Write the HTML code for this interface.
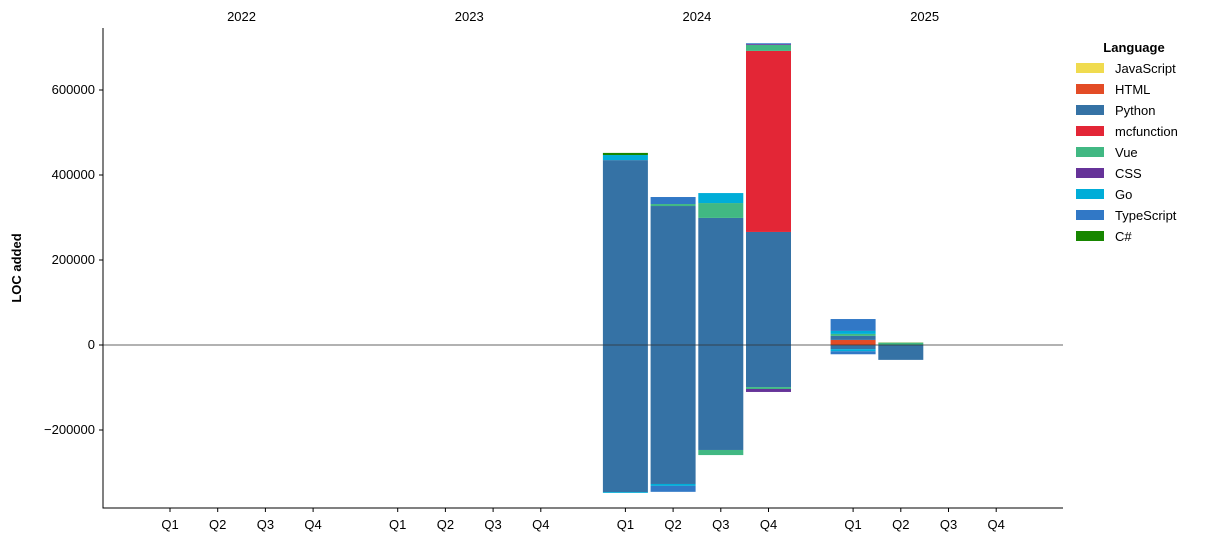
<!DOCTYPE html>
<html><head><meta charset="utf-8"><style>
body{margin:0;background:#fff;font-family:"Liberation Sans",sans-serif;}
svg text{font-family:"Liberation Sans",sans-serif;}
</style></head><body>
<svg id="chart" width="1208" height="542" xmlns="http://www.w3.org/2000/svg"></svg>
<script>
const years = ["2022","2023","2024","2025"];
const quarters = ["Q1","Q2","Q3","Q4"];
const languages = ["JavaScript","HTML","Python","mcfunction","Vue","CSS","Go","TypeScript","C#"];
const colors = ["#f0db4f","#e34c26","#3572a5","#e32636","#41b883","#663399","#00add8","#3178c6","#178600"];
const yTicks = [-200000,0,200000,400000,600000];
// positive values per language, 16 quarters (2022Q1..2025Q4)
const posJavaScript = [0,0,0,0, 0,0,0,0, 0,0,0,0, 0,0,0,0];
const posHTML       = [0,0,0,0, 0,0,0,0, 0,0,0,0, 12000,0,0,0];
const posPython     = [0,0,0,0, 0,0,0,0, 435000,327000,299000,266000, 9400,0,0,0];
const posMcfunction = [0,0,0,0, 0,0,0,0, 0,0,0,426000, 0,0,0,0];
const posVue        = [0,0,0,0, 0,0,0,0, 0,4700,35000,14000, 4700,4700,0,0];
const posCSS        = [0,0,0,0, 0,0,0,0, 0,0,0,2000, 0,0,0,0];
const posGo         = [0,0,0,0, 0,0,0,0, 12000,0,23500,0, 7000,0,0,0];
const posTypeScript = [0,0,0,0, 0,0,0,0, 0,16500,0,2000, 28000,0,0,0];
const posCSharp     = [0,0,0,0, 0,0,0,0, 5000,0,0,0, 0,800,0,0];
// negative values
const negJavaScript = [0,0,0,0, 0,0,0,0, 0,0,0,0, 0,0,0,0];
const negHTML       = [0,0,0,0, 0,0,0,0, 0,0,0,0, -800,0,0,0];
const negPython     = [0,0,0,0, 0,0,0,0, -346000,-327000,-247000,-99000, -9000,-35000,0,0];
const negMcfunction = [0,0,0,0, 0,0,0,0, 0,0,0,0, 0,0,0,0];
const negVue        = [0,0,0,0, 0,0,0,0, 0,0,-12000,-4500, 0,0,0,0];
const negCSS        = [0,0,0,0, 0,0,0,0, 0,0,0,-7000, 0,0,0,0];
const negGo         = [0,0,0,0, 0,0,0,0, -2000,-4500,0,0, -5000,0,0,0];
const negTypeScript = [0,0,0,0, 0,0,0,0, 0,-14000,0,0, -7000,0,0,0];
const negCSharp     = [0,0,0,0, 0,0,0,0, 0,0,0,0, 0,0,0,0];

const posSeries=[posJavaScript,posHTML,posPython,posMcfunction,posVue,posCSS,posGo,posTypeScript,posCSharp];
const negSeries=[negJavaScript,negHTML,negPython,negMcfunction,negVue,negCSS,negGo,negTypeScript,negCSharp];
const NS="http://www.w3.org/2000/svg";
const svg=document.getElementById('chart');
function mk(t,a,p){const e=document.createElementNS(NS,t);for(const k in a)e.setAttribute(k,a[k]);(p||svg).appendChild(e);return e;}
const L=103,R=1063,T=28,B=508;
const y=v=>345-v*0.000425;
const x=i=>170+Math.floor(i/4)*227.7+(i%4)*47.7;
const bw=45;
const bars=mk('g',{});


for(let i=0;i<16;i++){
  let pb=0,nb=0;
  for(let s=0;s<languages.length;s++){
    const pv=posSeries[s][i];
    if(pv>0){const r=mk('rect',{x:x(i)-bw/2,y:y(pb+pv),width:bw,height:y(pb)-y(pb+pv),fill:colors[s]},bars);
      
      pb+=pv;}
    const nv=negSeries[s][i];
    if(nv<0){const r=mk('rect',{x:x(i)-bw/2,y:y(nb),width:bw,height:y(nb+nv)-y(nb),fill:colors[s]},bars);
      
      nb+=nv;}
  }
}
const zl=mk('line',{x1:L,x2:R,y1:y(0),y2:y(0),stroke:'#333','stroke-width':0.8});


const ax=mk('path',{d:`M${L} ${T}V${B}H${R}`,fill:'none',stroke:'#000','stroke-width':1});


for(const t of yTicks){
  mk('line',{x1:L-4,x2:L,y1:y(t),y2:y(t),stroke:'#000'});
  const tx=mk('text',{x:L-8,y:y(t)+4,'text-anchor':'end','font-size':13},);
  tx.textContent=t<0?'\u2212'+(-t):String(t);
  
  
}
for(let i=0;i<16;i++){
  mk('line',{x1:x(i),x2:x(i),y1:B,y2:B+4,stroke:'#000'});
  const tx=mk('text',{x:x(i),y:B+21,'text-anchor':'middle','font-size':13});
  tx.textContent=quarters[i%4];
  
  
}
years.forEach((yr,k)=>{
  const tx=mk('text',{x:x(k*4+1)+23.85,y:21,'text-anchor':'middle','font-size':13});
  tx.textContent=yr;
  
  
});
const yt=mk('text',{x:21,y:268,'text-anchor':'middle','font-size':13,'font-weight':'bold',transform:'rotate(-90 21 268)'});
yt.textContent='LOC added';


const lg=mk('g',{});


const lt=mk('text',{x:1134,y:52,'text-anchor':'middle','font-size':13,'font-weight':'bold'},lg);
lt.textContent='Language';


languages.forEach((n,s)=>{
  const g=mk('g',{},lg);
  
  
  mk('rect',{x:1076,y:63+s*21,width:28,height:10,fill:colors[s]},g);
  const t=mk('text',{x:1115,y:73+s*21,'font-size':13},g);
  t.textContent=n;
});
</script>
</body></html>
